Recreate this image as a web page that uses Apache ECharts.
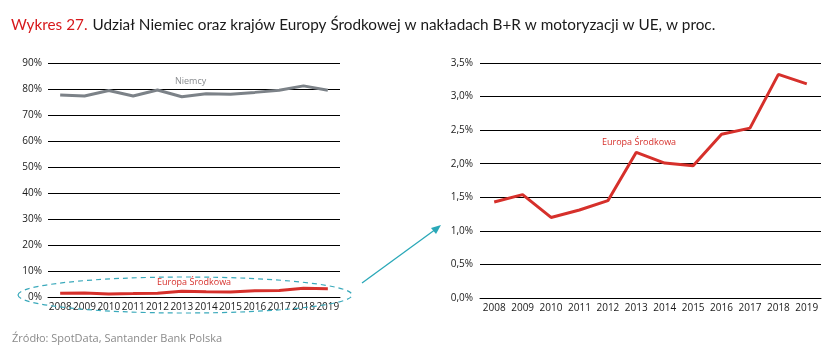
<!DOCTYPE html>
<html><head><meta charset="utf-8">
<script src="https://cdn.jsdelivr.net/npm/echarts@6/dist/echarts.min.js"></script>
<style>html,body{margin:0;padding:0;background:#fff}#c{width:832px;height:359px}</style>
</head><body><div id="c"></div>
<script>
const years = ['2008','2009','2010','2011','2012','2013','2014','2015','2016','2017','2018','2019'];
const niemcy = [77.7, 77.3, 79.4, 77.3, 79.6, 77.0, 78.2, 78.0, 78.7, 79.5, 81.2, 79.5];
const europaSrodkowa = [1.43, 1.54, 1.20, 1.31, 1.45, 2.17, 2.01, 1.97, 2.44, 2.53, 3.33, 3.19];
const leftTicks = [0, 10, 20, 30, 40, 50, 60, 70, 80, 90];
const rightTicks = [0, 0.5, 1.0, 1.5, 2.0, 2.5, 3.0, 3.5];

const axisFont = 'Open Sans';
const chart = echarts.init(document.getElementById('c'), null, {renderer: 'canvas'});
const xAxisCommon = {
  type: 'category', data: years, boundaryGap: true,
  axisLine: {show: true, lineStyle: {color: '#000', width: 1}},
  axisTick: {show: false},
  axisLabel: {interval: 0, color: '#1a1a1a', fontSize: 10, fontFamily: axisFont, margin: 5}
};
const yAxisCommon = {
  type: 'value',
  axisLine: {show: false}, axisTick: {show: false},
  splitLine: {show: true, lineStyle: {color: '#000', width: 1}},
};
chart.setOption({
  animation: false,
  title: {
    text: '{r|Wykres 27.} {k|Udział Niemiec oraz krajów Europy Środkowej w nakładach B+R w motoryzacji w UE, w proc.}',
    left: 6, top: 11,
    textStyle: {fontWeight: 'normal', rich: {
      r: {color: '#d7191c', fontSize: 15.3, fontFamily: 'Lato', fontWeight: 'normal'},
      k: {color: '#1a1a1a', fontSize: 15.3, fontFamily: 'Lato', fontWeight: 'normal'}
    }}
  },
  grid: [
    {left: 48, right: 492, top: 63, bottom: 62},
    {left: 480, right: 11, top: 63, bottom: 61}
  ],
  xAxis: [
    Object.assign({gridIndex: 0}, xAxisCommon),
    Object.assign({gridIndex: 1}, xAxisCommon)
  ],
  yAxis: [
    Object.assign({gridIndex: 0, min: leftTicks[0], max: leftTicks[leftTicks.length-1], interval: 10,
      axisLabel: {formatter: v => v + '%', color: '#1a1a1a', fontSize: 10, fontFamily: axisFont, margin: 6}}, yAxisCommon),
    Object.assign({gridIndex: 1, min: rightTicks[0], max: rightTicks[rightTicks.length-1], interval: 0.5,
      axisLabel: {formatter: v => v.toFixed(1).replace('.', ',') + '%', color: '#1a1a1a', fontSize: 10, fontFamily: axisFont, margin: 7}}, yAxisCommon)
  ],
  series: [
    {name: 'Niemcy', type: 'line', xAxisIndex: 0, yAxisIndex: 0, data: niemcy, symbol: 'none',
      lineStyle: {color: '#7c8288', width: 3}},
    {name: 'Europa Środkowa', type: 'line', xAxisIndex: 0, yAxisIndex: 0, data: europaSrodkowa, symbol: 'none',
      lineStyle: {color: '#d6302b', width: 3}},
    {name: 'Europa Środkowa', type: 'line', xAxisIndex: 1, yAxisIndex: 1, data: europaSrodkowa, symbol: 'none',
      lineStyle: {color: '#d6302b', width: 3}}
  ],
  graphic: [
    {type: 'text', left: 175, top: 77, style: {text: 'Niemcy', fill: '#8a8d90', fontSize: 9, fontFamily: axisFont}},
    {type: 'text', left: 157, top: 278, style: {text: 'Europa Środkowa', fill: '#d6302b', fontSize: 9, fontFamily: axisFont}},
    {type: 'text', left: 602, top: 138, style: {text: 'Europa Środkowa', fill: '#d6302b', fontSize: 9, fontFamily: axisFont}},
    {type: 'ellipse', shape: {cx: 185, cy: 295, rx: 167, ry: 18},
      style: {fill: 'none', stroke: '#3aa9bb', lineWidth: 1.2, lineDash: [5, 4]}, z: 10},
    {type: 'line', shape: {x1: 362, y1: 283, x2: 436, y2: 229},
      style: {stroke: '#2aa8b8', lineWidth: 1.3}, z: 10},
    {type: 'polygon', shape: {points: [[441, 225], [431, 228], [436, 234]]},
      style: {fill: '#2aa8b8'}, z: 10},
    {type: 'text', left: 12, top: 333, style: {text: 'Źródło: SpotData, Santander Bank Polska', fill: '#8a8a8a', fontSize: 11, fontFamily: axisFont}}
  ]
});
</script></body></html>
